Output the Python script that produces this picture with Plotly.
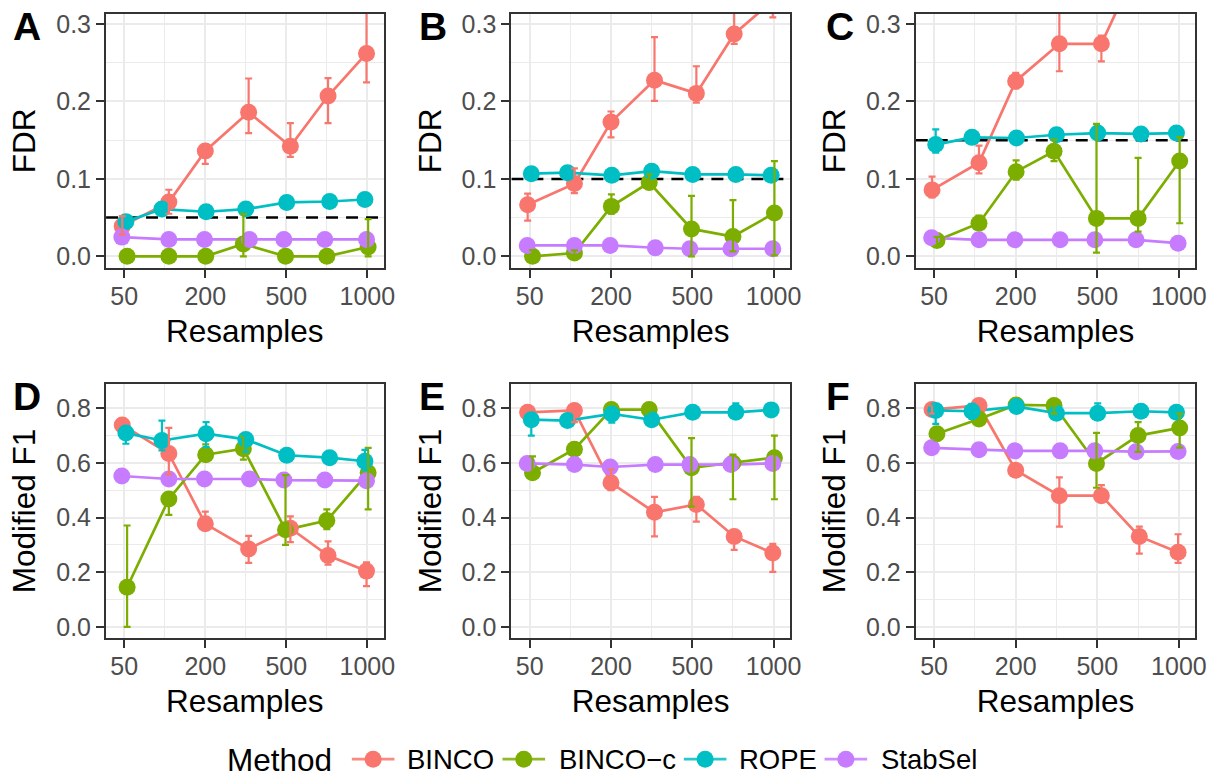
import plotly.graph_objects as go

# ---------------- data ----------------
METHODS = ["BINCO", "BINCO-c", "ROPE", "StabSel"]
METHOD_LABELS = ["BINCO", "BINCO\u2212c", "ROPE", "StabSel"]
COLORS = ["#F8766D", "#7CAE00", "#00BFC4", "#C77CFF"]
RESAMPLES = [50, 100, 200, 300, 500, 750, 1000]
X_INDEX = [1, 2, 3, 4, 5, 6, 7]
TICK_VALS = [1, 3, 5, 7]
TICK_LABELS = ["50", "200", "500", "1000"]

# horizontal jitter of the points (index units)
JITTER = {
    "BINCO":   [-0.05, 0.10, 0.00, 0.07, 0.10, 0.03, -0.02],
    "BINCO-c": [0.07, 0.10, 0.01, -0.06, -0.02, 0.00, 0.02],
    "ROPE":    [0.04, -0.07, 0.02, 0.00, 0.01, 0.07, -0.06],
    "StabSel": [-0.06, 0.10, -0.02, 0.09, -0.06, -0.05, -0.02],
}

# ---- Panel A (FDR, target 0.05) ----
A_MEAN = {
    "BINCO":   [0.039, 0.070, 0.136, 0.186, 0.142, 0.207, 0.262],
    "BINCO-c": [0.0, 0.0, 0.0, 0.016, 0.0, 0.0, 0.012],
    "ROPE":    [0.0448, 0.061, 0.0576, 0.061, 0.0696, 0.0708, 0.0734],
    "StabSel": [0.0248, 0.0218, 0.0218, 0.0218, 0.0218, 0.0218, 0.0218],
}
A_LO = {
    "BINCO":   [0.028, 0.055, 0.1195, 0.159, 0.1285, 0.172, 0.2245],
    "BINCO-c": [0.0, 0.0, 0.0, 0.0, 0.0, 0.0, 0.0],
    "ROPE":    [0.0448, 0.061, 0.0576, 0.061, 0.0696, 0.0708, 0.0734],
    "StabSel": [0.0248, 0.0218, 0.0218, 0.0218, 0.0218, 0.0218, 0.0218],
}
A_HI = {
    "BINCO":   [0.052, 0.086, 0.140, 0.2296, 0.172, 0.230, 0.34],
    "BINCO-c": [0.0, 0.0, 0.0, 0.0546, 0.0, 0.0, 0.048],
    "ROPE":    [0.0448, 0.061, 0.0576, 0.061, 0.0696, 0.0708, 0.0734],
    "StabSel": [0.0248, 0.0218, 0.0218, 0.0218, 0.0218, 0.0218, 0.0218],
}

# ---- Panel B (FDR, target 0.10) ----
B_MEAN = {
    "BINCO":   [0.0666, 0.0939, 0.1733, 0.2275, 0.2104, 0.2872, 0.33],
    "BINCO-c": [0.0, 0.0043, 0.0645, 0.0952, 0.0354, 0.0256, 0.0559],
    "ROPE":    [0.1067, 0.108, 0.1046, 0.110, 0.1058, 0.1058, 0.1046],
    "StabSel": [0.0141, 0.0141, 0.0141, 0.0111, 0.0098, 0.0098, 0.0098],
}
B_LO = {
    "BINCO":   [0.046, 0.0815, 0.1537, 0.2006, 0.1985, 0.2744, 0.3086],
    "BINCO-c": [0.0, 0.0, 0.055, 0.0866, 0.0, 0.0064, 0.0013],
    "ROPE":    [0.1067, 0.108, 0.1046, 0.110, 0.1058, 0.1058, 0.1046],
    "StabSel": [0.0141, 0.0141, 0.0141, 0.0111, 0.0098, 0.0098, 0.0098],
}
B_HI = {
    "BINCO":   [0.081, 0.1135, 0.187, 0.283, 0.2454, 0.33, 0.36],
    "BINCO-c": [0.008, 0.0077, 0.080, 0.106, 0.078, 0.0726, 0.123],
    "ROPE":    [0.1067, 0.108, 0.1046, 0.110, 0.1058, 0.1058, 0.1046],
    "StabSel": [0.0141, 0.0141, 0.0141, 0.0111, 0.0098, 0.0098, 0.0098],
}

# ---- Panel C (FDR, target 0.15) ----
C_MEAN = {
    "BINCO":   [0.0858, 0.1208, 0.2262, 0.2744, 0.2744, 0.38, 0.41],
    "BINCO-c": [0.0205, 0.0427, 0.1093, 0.1357, 0.049, 0.049, 0.123],
    "ROPE":    [0.1443, 0.1536, 0.1528, 0.157, 0.1592, 0.158, 0.1592],
    "StabSel": [0.0239, 0.0213, 0.0213, 0.0213, 0.0213, 0.0213, 0.017],
}
C_LO = {
    "BINCO":   [0.076, 0.107, 0.2168, 0.239, 0.2518, 0.36, 0.39],
    "BINCO-c": [0.014, 0.035, 0.099, 0.123, 0.0047, 0.032, 0.0427],
    "ROPE":    [0.134, 0.1536, 0.1528, 0.157, 0.1592, 0.158, 0.1592],
    "StabSel": [0.0239, 0.0213, 0.0213, 0.0213, 0.0213, 0.0213, 0.017],
}
C_HI = {
    "BINCO":   [0.1029, 0.143, 0.237, 0.33, 0.285, 0.40, 0.43],
    "BINCO-c": [0.025, 0.0525, 0.124, 0.1507, 0.171, 0.127, 0.154],
    "ROPE":    [0.164, 0.1536, 0.1528, 0.157, 0.1592, 0.158, 0.1592],
    "StabSel": [0.0239, 0.0213, 0.0213, 0.0213, 0.0213, 0.0213, 0.017],
}

# ---- Panel D (Modified F1) ----
D_MEAN = {
    "BINCO":   [0.739, 0.634, 0.377, 0.285, 0.361, 0.261, 0.204],
    "BINCO-c": [0.145, 0.468, 0.630, 0.652, 0.355, 0.389, 0.564],
    "ROPE":    [0.709, 0.682, 0.707, 0.686, 0.628, 0.619, 0.606],
    "StabSel": [0.552, 0.541, 0.541, 0.541, 0.537, 0.537, 0.535],
}
D_LO = {
    "BINCO":   [0.739, 0.558, 0.355, 0.234, 0.310, 0.228, 0.149],
    "BINCO-c": [0.0, 0.41, 0.61, 0.612, 0.30, 0.358, 0.430],
    "ROPE":    [0.670, 0.646, 0.658, 0.64, 0.628, 0.619, 0.573],
    "StabSel": [0.552, 0.541, 0.541, 0.541, 0.537, 0.537, 0.535],
}
D_HI = {
    "BINCO":   [0.739, 0.728, 0.422, 0.333, 0.404, 0.313, 0.236],
    "BINCO-c": [0.371, 0.49, 0.668, 0.697, 0.555, 0.430, 0.655],
    "ROPE":    [0.733, 0.755, 0.749, 0.70, 0.628, 0.619, 0.648],
    "StabSel": [0.552, 0.541, 0.541, 0.541, 0.537, 0.537, 0.535],
}

# ---- Panel E (Modified F1) ----
E_MEAN = {
    "BINCO":   [0.785, 0.792, 0.527, 0.419, 0.448, 0.331, 0.270],
    "BINCO-c": [0.564, 0.650, 0.795, 0.795, 0.582, 0.600, 0.619],
    "ROPE":    [0.758, 0.755, 0.779, 0.758, 0.785, 0.785, 0.794],
    "StabSel": [0.598, 0.594, 0.585, 0.594, 0.594, 0.594, 0.598],
}
E_LO = {
    "BINCO":   [0.785, 0.749, 0.50, 0.331, 0.385, 0.282, 0.201],
    "BINCO-c": [0.549, 0.650, 0.795, 0.78, 0.44, 0.467, 0.467],
    "ROPE":    [0.70, 0.755, 0.747, 0.737, 0.785, 0.785, 0.794],
    "StabSel": [0.598, 0.594, 0.585, 0.594, 0.594, 0.594, 0.598],
}
E_HI = {
    "BINCO":   [0.785, 0.792, 0.576, 0.476, 0.476, 0.345, 0.304],
    "BINCO-c": [0.624, 0.650, 0.795, 0.795, 0.691, 0.630, 0.70],
    "ROPE":    [0.78, 0.755, 0.797, 0.78, 0.785, 0.818, 0.794],
    "StabSel": [0.598, 0.594, 0.585, 0.594, 0.594, 0.594, 0.598],
}

# ---- Panel F (Modified F1) ----
F_MEAN = {
    "BINCO":   [0.795, 0.810, 0.573, 0.480, 0.480, 0.331, 0.273],
    "BINCO-c": [0.707, 0.761, 0.812, 0.810, 0.598, 0.700, 0.728],
    "ROPE":    [0.792, 0.789, 0.806, 0.782, 0.782, 0.789, 0.785],
    "StabSel": [0.655, 0.648, 0.644, 0.644, 0.644, 0.641, 0.642],
}
F_LO = {
    "BINCO":   [0.78, 0.810, 0.573, 0.367, 0.458, 0.268, 0.234],
    "BINCO-c": [0.682, 0.761, 0.812, 0.78, 0.509, 0.64, 0.656],
    "ROPE":    [0.743, 0.761, 0.806, 0.782, 0.782, 0.789, 0.785],
    "StabSel": [0.655, 0.648, 0.644, 0.644, 0.644, 0.641, 0.642],
}
F_HI = {
    "BINCO":   [0.81, 0.810, 0.573, 0.547, 0.519, 0.367, 0.339],
    "BINCO-c": [0.707, 0.761, 0.812, 0.810, 0.710, 0.749, 0.78],
    "ROPE":    [0.81, 0.816, 0.806, 0.782, 0.818, 0.789, 0.785],
    "StabSel": [0.655, 0.648, 0.644, 0.644, 0.644, 0.641, 0.642],
}

FDR_TARGETS = {"A": 0.05, "B": 0.10, "C": 0.15}
PANELS = [
    ("A", A_MEAN, A_LO, A_HI, "FDR"),
    ("B", B_MEAN, B_LO, B_HI, "FDR"),
    ("C", C_MEAN, C_LO, C_HI, "FDR"),
    ("D", D_MEAN, D_LO, D_HI, "Modified F1"),
    ("E", E_MEAN, E_LO, E_HI, "Modified F1"),
    ("F", F_MEAN, F_LO, F_HI, "Modified F1"),
]

# ---------------- layout geometry ----------------
W, H = 1230, 779
FONT = "Liberation Sans, Arial, Helvetica, sans-serif"
COL_PX = [(107, 387), (516, 797), (924, 1206)]
ROW_PX = [(10, 266), (383, 639)]
COL_OFF = [0, 410, 820]
XRANGE = [0.55, 7.4]

fig = go.Figure()
layout = dict(
    width=W, height=H,
    margin=dict(l=0, r=0, t=0, b=0),
    paper_bgcolor="white", plot_bgcolor="rgba(0,0,0,0)",
    font=dict(family=FONT, color="black"),
    showlegend=False,
)
annotations = []

for p, (letter, mean, lo, hi, ytitle) in enumerate(PANELS):
    r, c = divmod(p, 3)
    n = p + 1
    xa = "x" if n == 1 else f"x{n}"
    ya = "y" if n == 1 else f"y{n}"
    xkey = "xaxis" if n == 1 else f"xaxis{n}"
    ykey = "yaxis" if n == 1 else f"yaxis{n}"
    x0, x1 = COL_PX[c]
    y0, y1 = ROW_PX[r]

    is_fdr = ytitle == "FDR"
    if is_fdr:
        yrange = [-0.015, 0.313]
        ytv = [0.0, 0.1, 0.2, 0.3]
        yminor = [0.05, 0.15, 0.25]
    else:
        yrange = [-0.041, 0.8885]
        ytv = [0.0, 0.2, 0.4, 0.6, 0.8]
        yminor = [0.1, 0.3, 0.5, 0.7]

    common = dict(
        ticks="outside", ticklen=8, tickwidth=1.6, tickcolor="#333333",
        showline=True, linecolor="#333333", linewidth=2, mirror=True,
        showgrid=True, gridcolor="#EBEBEB", gridwidth=1.7,
        zeroline=False,
        tickfont=dict(family=FONT, size=25, color="#4D4D4D"),
    )
    layout[xkey] = dict(
        common,
        domain=[x0 / W, x1 / W], anchor=ya,
        range=XRANGE,
        tickvals=TICK_VALS, ticktext=TICK_LABELS,
        ticklabelstandoff=-3,
        minor=dict(tickvals=[2, 4, 6], showgrid=True, gridcolor="#EBEBEB",
                   gridwidth=0.9, ticks=""),
        title=dict(text="Resamples", font=dict(family=FONT, size=31.5, color="black"),
                   standoff=11),
    )
    layout[ykey] = dict(
        common,
        domain=[1 - y1 / H, 1 - y0 / H], anchor=xa,
        range=yrange,
        tickvals=ytv, ticktext=[f"{v:.1f}" for v in ytv],
        minor=dict(tickvals=yminor, showgrid=True, gridcolor="#EBEBEB",
                   gridwidth=0.9, ticks=""),
        title=dict(text=ytitle, font=dict(family=FONT, size=31.5, color="black"),
                   standoff=11),
    )

    # dashed target line (drawn first so points sit on top)
    if letter in FDR_TARGETS:
        t = FDR_TARGETS[letter]
        fig.add_trace(go.Scatter(x=XRANGE, y=[t, t], mode="lines",
                                 line=dict(color="black", width=2.5, dash="12px,8px"),
                                 xaxis=xa, yaxis=ya, hoverinfo="skip"))

    # panel letter
    annotations.append(dict(
        text=f"<b>{letter}</b>", xref="paper", yref="paper",
        x=(COL_OFF[c] + 11) / W, xanchor="left",
        y=1 - (y0 + 13) / H, yanchor="middle",
        showarrow=False, font=dict(family=FONT, size=39, color="black"),
    ))

    xs = {m: [xi + j for xi, j in zip(X_INDEX, JITTER[m])] for m in METHODS}
    # lines
    for m, col in zip(METHODS, COLORS):
        fig.add_trace(go.Scatter(x=xs[m], y=mean[m], mode="lines",
                                 line=dict(color=col, width=2.7),
                                 xaxis=xa, yaxis=ya, hoverinfo="skip"))
    # points
    for m, col in zip(METHODS, COLORS):
        fig.add_trace(go.Scatter(x=xs[m], y=mean[m], mode="markers",
                                 marker=dict(color=col, size=17, line=dict(width=0)),
                                 xaxis=xa, yaxis=ya, name=m))
    # error bars (drawn on top of the points)
    for m, col in zip(METHODS, COLORS):
        ex, ey, eplus, eminus = [], [], [], []
        for xi, mv, lv, hv in zip(xs[m], mean[m], lo[m], hi[m]):
            if hv - lv > 1e-9:
                ex.append(xi)
                ey.append(mv)
                eplus.append(hv - mv)
                eminus.append(mv - lv)
        if not ex:
            continue
        fig.add_trace(go.Scatter(
            x=ex, y=ey, mode="markers",
            marker=dict(color="rgba(0,0,0,0)", size=1),
            error_y=dict(type="data", array=eplus, arrayminus=eminus,
                         color=col, thickness=2.2, width=3.5, symmetric=False),
            xaxis=xa, yaxis=ya, hoverinfo="skip"))

# ---------------- manual legend (strip axis in pixel units) ----------------
LEG_Y = 761
LEG_TITLE_X = 227
LEG_KEY_X = [355, 507, 690, 832]
LEG_TEXT_X = [409, 562, 744, 887]
KEY_LEN = 43
STRIP_H = 38  # legend strip height in px at the bottom of the figure
layout["xaxis7"] = dict(domain=[0, 1], range=[0, W], visible=False, anchor="y7",
                        fixedrange=True)
layout["yaxis7"] = dict(domain=[0, STRIP_H / H], range=[H, H - STRIP_H], visible=False,
                        anchor="x7", fixedrange=True)
for kx, tx, lab, col in zip(LEG_KEY_X, LEG_TEXT_X, METHOD_LABELS, COLORS):
    fig.add_trace(go.Scatter(x=[kx, kx + KEY_LEN], y=[LEG_Y, LEG_Y], mode="lines",
                             line=dict(color=col, width=2.7), opacity=0.85,
                             xaxis="x7", yaxis="y7", hoverinfo="skip", cliponaxis=False))
    fig.add_trace(go.Scatter(x=[kx + KEY_LEN / 2], y=[LEG_Y], mode="markers",
                             marker=dict(color=col, size=17),
                             xaxis="x7", yaxis="y7", hoverinfo="skip", cliponaxis=False))
    annotations.append(dict(text=lab, xref="paper", yref="paper",
                            x=tx / W, xanchor="left", y=1 - LEG_Y / H, yanchor="middle",
                            showarrow=False,
                            font=dict(family=FONT, size=27.5, color="black")))
annotations.append(dict(text="Method", xref="paper", yref="paper",
                        x=LEG_TITLE_X / W, xanchor="left", y=1 - (LEG_Y + 1) / H,
                        yanchor="middle", showarrow=False,
                        font=dict(family=FONT, size=31.5, color="black")))

layout["annotations"] = annotations
fig.update_layout(**layout)

fig.write_html("out.html")
